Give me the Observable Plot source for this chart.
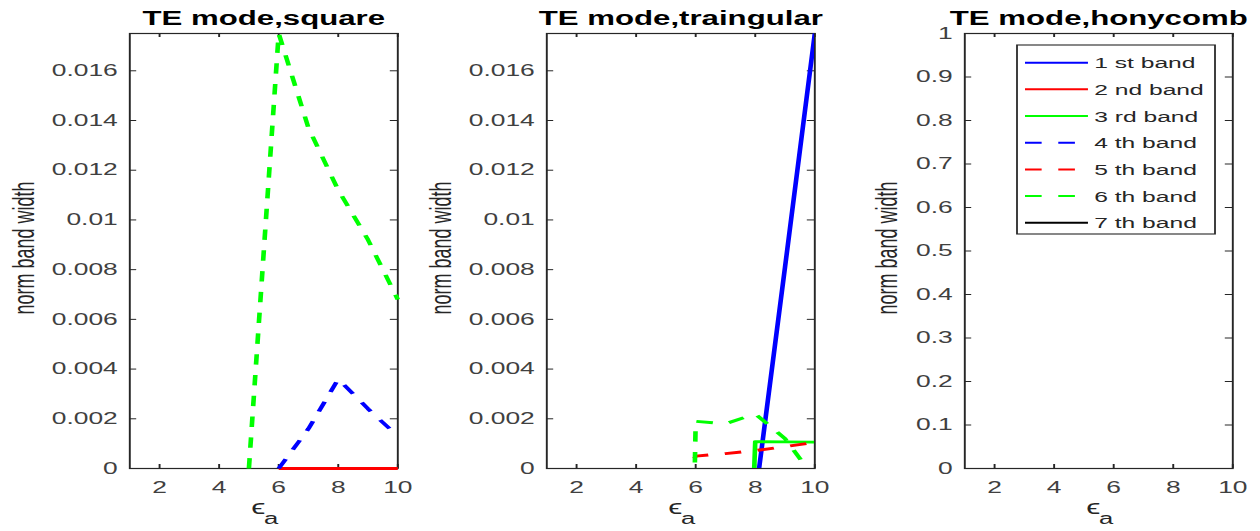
<!DOCTYPE html>
<html><head><meta charset="utf-8">
<script src="https://cdn.jsdelivr.net/npm/d3@7"></script>
<script src="https://cdn.jsdelivr.net/npm/@observablehq/plot@0.6"></script>
<style>
html,body{margin:0;padding:0;background:#fff;}
#fig{position:relative;width:1260px;height:531px;overflow:hidden;background:#fff;}
#fig svg{position:absolute;top:0;transform-origin:0 0;overflow:visible;}
</style></head><body><div id="fig"></div>
<script>
// ---------- data ----------
const eps = [1, 2, 3, 4, 5, 6, 7, 8, 9, 10];
const bandNames = ["1 st band", "2 nd band", "3 rd band", "4 th band", "5 th band", "6 th band", "7 th band"];
const bandColors = ["#0000ff", "#ff0000", "#00ff00", "#0000ff", "#ff0000", "#00ff00", "#000000"];
const bandDashed = [false, false, false, true, true, true, false];
const xTicks = [2, 4, 6, 8, 10];
const yTicksFine = [0, 0.002, 0.004, 0.006, 0.008, 0.01, 0.012, 0.014, 0.016];
const yTicksUnit = [0, 0.1, 0.2, 0.3, 0.4, 0.5, 0.6, 0.7, 0.8, 0.9, 1];
const yDomainFine = [0, 0.0175];
const yDomainUnit = [0, 1];
const titles = ["TE mode,square", "TE mode,traingular", "TE mode,honycomb"];
const yLabel = "norm band width";
const N = null;

// square lattice (values outside the view are clipped)
const sqBand1 = [N, N, N, N, N, N, N, N, N, N];
const sqBand2 = [N, N, N, N, N, 0, 0, 0, 0, 0];
const sqBand3 = [N, N, N, N, N, N, N, N, N, N];
const sqBand4 = [N, N, N, N, N, 0, 0.0016, 0.0036, 0.0024, 0.0013];
const sqBand5 = [N, N, N, N, N, N, N, N, N, N];
const sqBand6 = [N, N, N, N, 0, 0.0175, 0.0137, 0.0112, 0.0092, 0.0068];
const sqBand7 = [N, N, N, N, N, N, N, N, N, N];

// triangular lattice
const triBand1 = [N, N, N, N, N, N, N, -0.0012, 0.0081, 0.0175];
const triBand2 = [N, N, N, N, N, N, N, N, N, N];
const triBand3 = [N, N, N, N, N, N, -0.03, 0.00108, 0.00107, 0.00106];
const triBand4 = [N, N, N, N, N, N, N, N, N, N];
const triBand5 = [N, N, N, N, -0.002, 0.0005, 0.0006, 0.00072, 0.00088, 0.00105];
const triBand6 = [N, N, N, N, -0.06, 0.0019, 0.0018, 0.0022, 0.0012, -0.0004];
const triBand7 = [N, N, N, N, N, N, N, N, N, N];

// honeycomb lattice (nothing inside the view)
const honBand1 = [N, N, N, N, N, N, N, N, N, N];
const honBand2 = [N, N, N, N, N, N, N, N, N, N];
const honBand3 = [N, N, N, N, N, N, N, N, N, N];
const honBand4 = [N, N, N, N, N, N, N, N, N, N];
const honBand5 = [N, N, N, N, N, N, N, N, N, N];
const honBand6 = [N, N, N, N, N, N, N, N, N, N];
const honBand7 = [N, N, N, N, N, N, N, N, N, N];

// ---------- layout ----------
const S = 1.6;            // horizontal stretch of the original figure
const W = 262.5, H = 531;
const ML = 80.625, MR = 14.375, MT = 33, MB = 63;
const FW = W - ML - MR, FH = H - MT - MB;
const AX = "#262626";
const TICKC = "#404040";
const FONT = "'Liberation Sans', Arial, Helvetica, sans-serif";

const panels = [
  {title: titles[0], series: [sqBand1, sqBand2, sqBand3, sqBand4, sqBand5, sqBand6, sqBand7],
   domain: yDomainFine, ticks: yTicksFine, left: 0, ylabDx: -65.6, legend: false},
  {title: titles[1], series: [triBand1, triBand2, triBand3, triBand4, triBand5, triBand6, triBand7],
   domain: yDomainFine, ticks: yTicksFine, left: 416.5, ylabDx: -65.9, legend: false},
  {title: titles[2], series: [honBand1, honBand2, honBand3, honBand4, honBand5, honBand6, honBand7],
   domain: yDomainUnit, ticks: yTicksUnit, left: 835, ylabDx: -48.1, legend: true}
];

const fmt = d => String(+d.toFixed(4));
const dash = "10.4,10.4";

function makePanel(p) {
  const [lo, hi] = p.domain;
  const lines = p.series.map((s, b) => Plot.line(eps, {
    x: d => d,
    y: (d, i) => s[i],
    stroke: bandColors[b],
    strokeWidth: 2.9,
    strokeDasharray: bandDashed[b] ? dash : null,
    strokeLinecap: "butt",
    clip: s.some(v => v != null && (v < lo || v > hi))
  }));
  const svg = Plot.plot({
    width: W, height: H,
    marginLeft: ML, marginRight: MR, marginTop: MT, marginBottom: MB,
    style: {fontFamily: FONT, background: "transparent"},
    x: {domain: [1, 10]},
    y: {domain: p.domain},
    marks: [
      Plot.frame({stroke: AX, strokeWidth: 1.2}),
      Plot.tickY(p.ticks, {y: d => d, insetRight: FW - 4.5, stroke: AX, strokeWidth: 1}),
      Plot.tickY(p.ticks, {y: d => d, insetLeft: FW - 4.5, stroke: AX, strokeWidth: 1}),
      Plot.tickX(xTicks, {x: d => d, insetTop: FH - 4, stroke: AX, strokeWidth: 1.2}),
      Plot.tickX(xTicks, {x: d => d, insetBottom: FH - 4, stroke: AX, strokeWidth: 1.2}),
      Plot.axisY({ticks: p.ticks, tickSize: 0, tickPadding: 7.5, tickFormat: fmt, fontSize: 16.5, color: TICKC, label: null}),
      Plot.axisX({ticks: xTicks, tickSize: 0, tickPadding: 13, tickFormat: fmt, fontSize: 16.5, color: TICKC, label: null}),
      ...lines,
      Plot.text([p.title], {frameAnchor: "top", dy: -9, lineAnchor: "bottom", textAnchor: "middle", fontSize: 19.5, fontWeight: "bold", fill: "#000"}),
      Plot.text([yLabel], {frameAnchor: "left", dx: p.ylabDx, dy: -3, rotate: -90, textAnchor: "middle", lineAnchor: "middle", fontSize: 18, fill: AX}),
      Plot.text(["ϵ"], {frameAnchor: "bottom", dx: -3.5, dy: 45, textAnchor: "middle", fontSize: 20, fill: AX}),
      Plot.text(["a"], {frameAnchor: "bottom", dx: 4.5, dy: 55, textAnchor: "middle", fontSize: 16, fill: AX})
    ]
  });
  svg.style.left = p.left + "px";
  svg.style.transform = `scale(${S},1)`;
  svg.style.maxWidth = "none";

  if (p.legend) {
    const g = d3.select(svg).append("g").attr("class", "legend").attr("text-anchor", "start");
    const bx = 113.75, by = 45, bw = 123.75, bh = 189;
    g.append("rect").attr("x", bx).attr("y", by).attr("width", bw).attr("height", bh)
      .attr("fill", "#fff").attr("stroke", AX).attr("stroke-width", 1.1);
    bandNames.forEach((name, b) => {
      const y = 62.7 + b * 26.67;
      g.append("line").attr("x1", 118.75).attr("x2", 158.1).attr("y1", y).attr("y2", y)
        .attr("stroke", bandColors[b]).attr("stroke-width", 2)
        .attr("stroke-dasharray", bandDashed[b] ? dash : null);
      g.append("text").attr("x", 162).attr("y", y).attr("dy", "0.36em")
        .attr("text-anchor", "start")
        .attr("font-family", FONT).attr("font-size", 15.4).attr("fill", AX).text(name);
    });
  }
  return svg;
}

const fig = document.getElementById("fig");
panels.forEach(p => fig.appendChild(makePanel(p)));
</script>
</body></html>
